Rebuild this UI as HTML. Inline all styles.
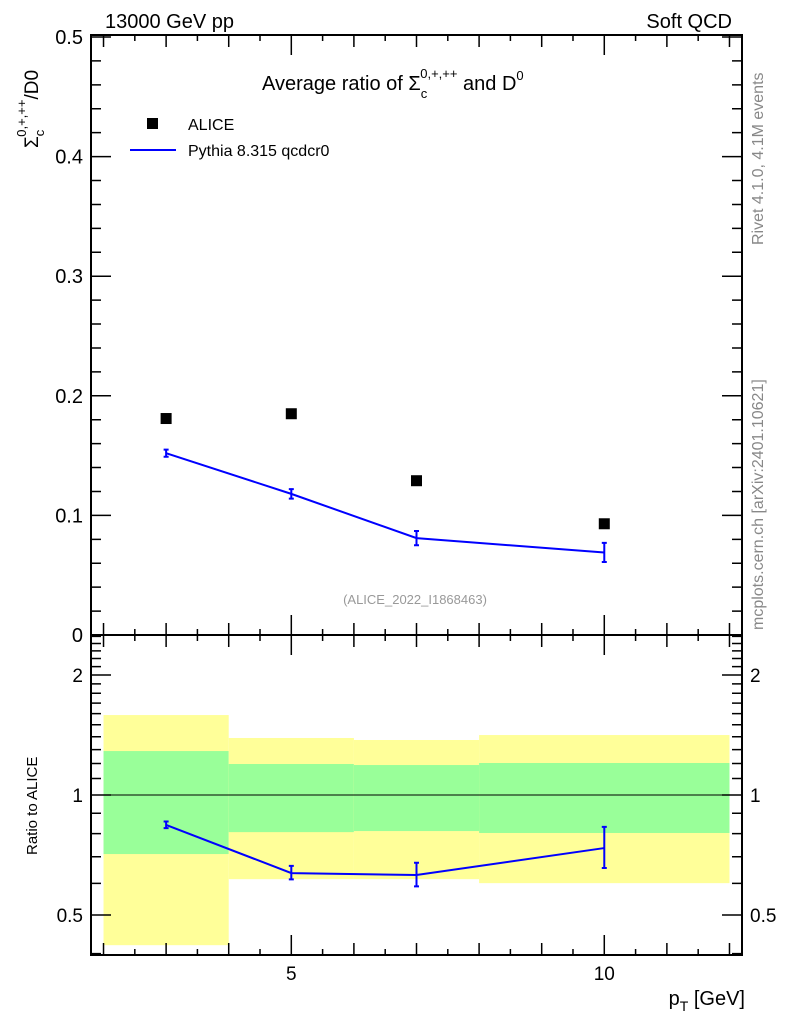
<!DOCTYPE html>
<html><head><meta charset="utf-8"><style>
body{margin:0;background:#fff}
svg{font-family:"Liberation Sans",sans-serif}
</style></head><body>
<svg id="c" width="786" height="1024" xmlns="http://www.w3.org/2000/svg">
<rect x="0" y="0" width="786" height="1024" fill="#fff"/>
<g id="bands"></g>
<g id="marks"></g>
<g id="axes"></g>
<text x="105" y="28" font-size="20">13000 GeV pp</text>
<text x="732" y="28" font-size="20" text-anchor="end">Soft QCD</text>
<text x="262" y="90" font-size="20">Average ratio of Σ<tspan font-size="13" dy="8">c</tspan><tspan font-size="13" dx="-7" dy="-20">0,+,++</tspan><tspan dy="12"> and D</tspan><tspan font-size="13" dy="-10">0</tspan></text>
<rect x="147" y="118" width="11" height="11" fill="#000"/>
<text x="188" y="130" font-size="16">ALICE</text>
<line x1="130" y1="150" x2="176" y2="150" stroke="#0000ff" stroke-width="2"/>
<text x="188" y="156" font-size="16">Pythia 8.315 qcdcr0</text>
<text x="415" y="604" font-size="13" fill="#999" text-anchor="middle">(ALICE_2022_I1868463)</text>
<text transform="translate(763,245) rotate(-90)" font-size="16" fill="#888">Rivet 4.1.0,  4.1M events</text>
<text transform="translate(763,630) rotate(-90)" font-size="16" fill="#888">mcplots.cern.ch [arXiv:2401.10621]</text>
<text transform="translate(38,148) rotate(-90)" font-size="19">Σ<tspan font-size="13" dy="6">c</tspan><tspan font-size="13" dx="-7" dy="-18">0,+,++</tspan><tspan dy="12">/D0</tspan></text>
<text transform="translate(37,855) rotate(-90)" font-size="15">Ratio to ALICE</text>
<text x="745" y="1005" font-size="20" text-anchor="end">p<tspan font-size="14" dy="6">T</tspan><tspan dy="-6"> [GeV]</tspan></text>
</svg>
<script>
const binEdges=[2,4,6,8,12];
const aliceX=[3,5,7,10];
const aliceY=[0.181,0.185,0.129,0.093];
const pythiaY=[0.152,0.118,0.081,0.069];
const pythiaErr=[0.003,0.004,0.006,0.008];
const yellowHi=[1.587,1.39,1.374,1.414];
const yellowLo=[0.42,0.615,0.615,0.601];
const greenHi=[1.289,1.196,1.189,1.203];
const greenLo=[0.711,0.807,0.812,0.803];
const ratioY=[0.841,0.637,0.63,0.736];
const ratioErrHi=[0.858,0.664,0.676,0.832];
const ratioErrLo=[0.826,0.614,0.59,0.656];
const mainYTicks=[0,0.1,0.2,0.3,0.4,0.5];
const ratioYTicks=[0.5,1,2];
const xTicks=[5,10];

const NS="http://www.w3.org/2000/svg";
const L=91,R=742,T=35,MB=635,RB=955;
const X=v=>L+(v-1.8)*(R-L)/(12.2-1.8);
const Y=v=>MB-v*1196;
const RY=v=>795-398.6*Math.log10(v);
function el(p,t,a){const e=document.createElementNS(NS,t);for(const k in a)e.setAttribute(k,a[k]);document.getElementById(p).appendChild(e);return e;}

for(let i=0;i<aliceX.length;i++){
 let e=el('bands','rect',{x:X(binEdges[i]),y:RY(yellowHi[i]),width:X(binEdges[i+1])-X(binEdges[i]),height:RY(yellowLo[i])-RY(yellowHi[i]),fill:'#ffff99'});
 
 
 e=el('bands','rect',{x:X(binEdges[i]),y:RY(greenHi[i]),width:X(binEdges[i+1])-X(binEdges[i]),height:RY(greenLo[i])-RY(greenHi[i]),fill:'#99ff99'});
 
 
}
let e=el('marks','line',{x1:L,x2:R,y1:RY(1),y2:RY(1),stroke:'#000','stroke-width':1});



for(let i=0;i<aliceX.length;i++){
 e=el('marks','rect',{x:X(aliceX[i])-5.5,y:Y(aliceY[i])-5.5,width:11,height:11,fill:'#000'});
 
 
}
e=el('marks','polyline',{points:aliceX.map((x,i)=>X(x)+','+Y(pythiaY[i])).join(' '),fill:'none',stroke:'#0000ff','stroke-width':2});


e=el('marks','polyline',{points:aliceX.map((x,i)=>X(x)+','+RY(ratioY[i])).join(' '),fill:'none',stroke:'#0000ff','stroke-width':2});


for(let i=0;i<aliceX.length;i++){
 const x=X(aliceX[i]);
 const segs=[[Y(pythiaY[i]+pythiaErr[i]),Y(pythiaY[i]-pythiaErr[i])],[RY(ratioErrHi[i]),RY(ratioErrLo[i])]];
 for(const [a,b] of segs){
  e=el('marks','path',{d:`M${x},${a}V${b}M${x-2.5},${a}h5M${x-2.5},${b}h5`,stroke:'#0000ff','stroke-width':2,fill:'none'});
  
  
 }
}
e=el('axes','rect',{x:L,y:T,width:R-L,height:MB-T,fill:'none',stroke:'#000','stroke-width':2});


e=el('axes','rect',{x:L,y:MB,width:R-L,height:RB-MB,fill:'none',stroke:'#000','stroke-width':2});


let d='';
for(let v=2;v<=12.01;v+=0.5){
 const x=X(v);const len=(v%5===0)?20:(Number.isInteger(v)?12:6);
 d+=`M${x},${MB}v${-len}M${x},${T}v${len}M${x},${RB}v${-len}M${x},${MB}v${len}`;
}
for(let v=0;v<=0.5001;v+=0.02){
 const y=Y(v);const len=(Math.abs(v*10-Math.round(v*10))<1e-6)?20:10;
 d+=`M${L},${y}h${len}M${R},${y}h${-len}`;
}
const rt=[0.4,0.5,0.6,0.7,0.8,0.9,1,1.1,1.2,1.3,1.4,1.5,1.6,1.7,1.8,1.9,2,2.1,2.2,2.3,2.4,2.5];
for(const v of rt){const y=RY(v);if(y<MB||y>RB)continue;const len=ratioYTicks.includes(v)?20:10;d+=`M${L},${y}h${len}M${R},${y}h${-len}`;}
e=el('axes','path',{d:d,stroke:'#000','stroke-width':1.5,fill:'none'});


for(const v of mainYTicks){
 e=el('axes','text',{x:L-8,y:Y(v)+7,'font-size':20,'text-anchor':'end'});e.textContent=v===0?'0':v.toFixed(1);
 
 
}
for(const v of ratioYTicks){
 for(const side of [0,1]){
  e=el('axes','text',{x:side?R+8:L-8,y:RY(v)+7,'font-size':19,'text-anchor':side?'start':'end'});e.textContent=String(v);
  
  
 }
}
for(const v of xTicks){
 e=el('axes','text',{x:X(v),y:RB+25,'font-size':19,'text-anchor':'middle'});e.textContent=String(v);
 
 
}
</script>
</body></html>
